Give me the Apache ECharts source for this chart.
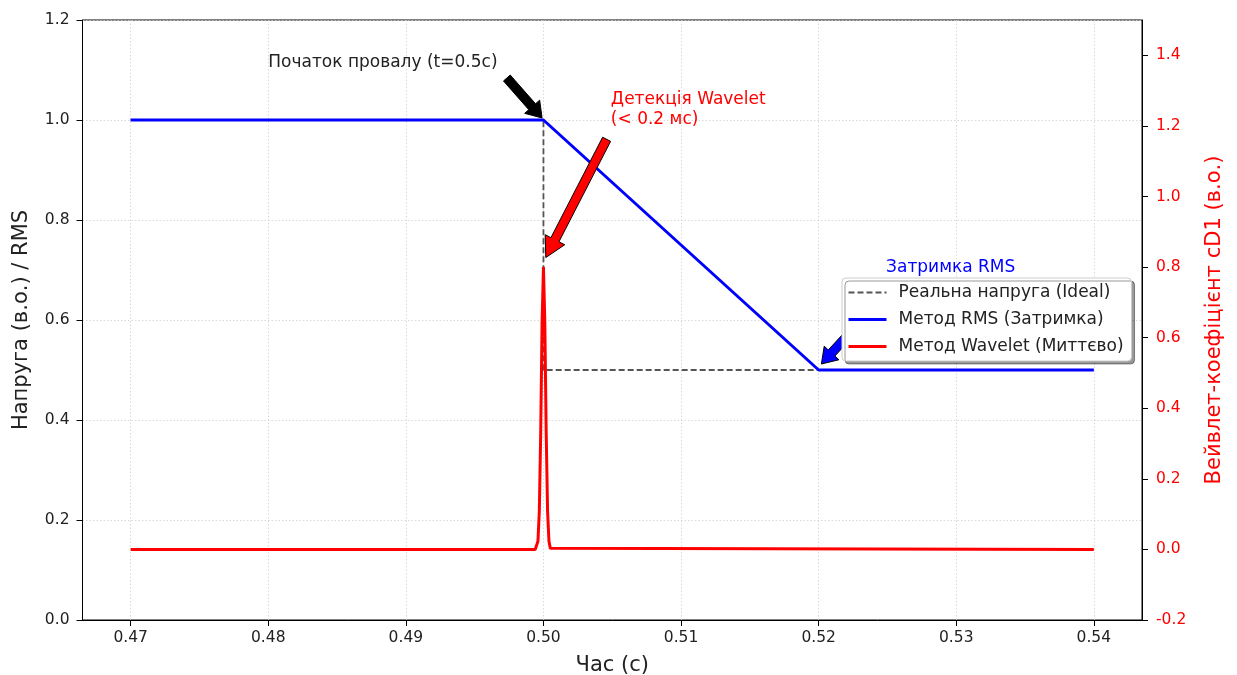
<!DOCTYPE html>
<html>
<head>
<meta charset="utf-8">
<script src="https://cdn.jsdelivr.net/npm/echarts@6/dist/echarts.min.js"></script>
<style>
  html, body { margin: 0; padding: 0; background: #fff; }
  #chart { width: 1237px; height: 675px; }
</style>
</head>
<body>
<div id="chart"></div>
<script>
// Axis ticks
const timeTicks = [0.47, 0.48, 0.49, 0.50, 0.51, 0.52, 0.53, 0.54];
const voltTicks = [0.0, 0.2, 0.4, 0.6, 0.8, 1.0, 1.2];
const coefTicks = [-0.2, 0.0, 0.2, 0.4, 0.6, 0.8, 1.0, 1.2, 1.4];

// Ideal voltage (step sag at t = 0.5 s)
const idealTime = [0.47, 0.50, 0.50, 0.54];
const idealVolt = [1.0, 1.0, 0.5, 0.5];

// RMS estimate (one-cycle window lag)
const rmsTime = [0.47, 0.50, 0.52, 0.54];
const rmsVolt = [1.0, 1.0, 0.5, 0.5];

// Wavelet detail coefficient cD1
const cd1Time = [0.47, 0.4994, 0.4995, 0.4996, 0.4997, 0.4998, 0.4999, 0.5000,
                 0.5001, 0.5002, 0.5003, 0.5004, 0.5005, 0.5006, 0.54];
const cd1Value = [0.0, 0.0, 0.003, 0.023, 0.108, 0.329, 0.641, 0.80,
                  0.641, 0.329, 0.108, 0.023, 0.003, 0.0, 0.0];

const seriesNames = ['Реальна напруга (Ideal)', 'Метод RMS (Затримка)', 'Метод Wavelet (Миттєво)'];

const zip = (a, b) => a.map((v, i) => [v, b[i]]);

const chart = echarts.init(document.getElementById('chart'));
const FONT = 'DejaVu Sans';

chart.setOption({
  animation: false,
  textStyle: { fontFamily: FONT },
  grid: {
    left: 82.5, right: 95, top: 20, bottom: 55,
    show: true, borderColor: '#000', borderWidth: 1, backgroundColor: 'transparent',
    outerBoundsMode: 'none'
  },
  legend: {
    orient: 'vertical',
    left: 842, top: 278,
    z: 10,
    padding: [6, 8, 6, 5],
    itemGap: 10,
    itemWidth: 38,
    itemHeight: 14,
    backgroundColor: '#fff',
    borderColor: '#cccccc',
    borderWidth: 1,
    borderRadius: 4,
    shadowColor: 'rgba(0,0,0,0.4)',
    shadowBlur: 0,
    shadowOffsetX: 3,
    shadowOffsetY: 3,
    itemStyle: { color: 'rgba(0,0,0,0)', borderColor: 'rgba(0,0,0,0)', borderWidth: 0 },
    textStyle: { fontFamily: FONT, fontSize: 17, color: '#222', padding: [0, 0, 0, 7] },
    data: [
      { name: seriesNames[0], lineStyle: { width: 2 } },
      { name: seriesNames[1], lineStyle: { width: 3 } },
      { name: seriesNames[2], lineStyle: { width: 3 } }
    ]
  },
  xAxis: {
    type: 'value',
    min: 0.4665, max: 0.5435,
    name: 'Час (с)',
    nameLocation: 'middle',
    nameGap: 35,
    nameTextStyle: { fontFamily: FONT, fontSize: 21, color: '#222' },
    axisLine: { show: true, onZero: false, lineStyle: { color: '#000', width: 1 } },
    axisTick: { show: true, length: 6, customValues: timeTicks, lineStyle: { color: '#000' } },
    axisLabel: {
      customValues: timeTicks, fontSize: 15.5, color: '#222', margin: 10,
      formatter: v => v.toFixed(2)
    },
    splitLine: { show: true, lineStyle: { color: '#cfcfcf', type: [1.5, 2], width: 0.8 } }
  },
  yAxis: [
    {
      type: 'value', min: 0, max: 1.2, interval: 0.2,
      position: 'left',
      name: 'Напруга (в.о.) / RMS',
      nameLocation: 'middle',
      nameGap: 50,
      nameTextStyle: { fontFamily: FONT, fontSize: 21, color: '#222' },
      axisLine: { show: true, lineStyle: { color: '#000', width: 1 } },
      axisTick: { show: true, length: 6, lineStyle: { color: '#000' } },
      axisLabel: { fontSize: 15.5, color: '#222', margin: 13, formatter: v => v.toFixed(1) },
      splitLine: { show: true, lineStyle: { color: '#cfcfcf', type: [1.5, 2], width: 0.8 } }
    },
    {
      type: 'value', min: -0.2, max: 1.5,
      position: 'right',
      name: 'Вейвлет-коефіцієнт cD1 (в.о.)',
      nameLocation: 'middle',
      nameGap: 62,
      nameRotate: 90,
      nameTextStyle: { fontFamily: FONT, fontSize: 21, color: '#ff0000' },
      axisLine: { show: true, lineStyle: { color: '#000', width: 1 } },
      axisTick: { show: true, length: 6, customValues: coefTicks, lineStyle: { color: '#000' } },
      axisLabel: {
        customValues: coefTicks, fontSize: 15.5, color: '#ff0000', margin: 14,
        formatter: v => v.toFixed(1)
      },
      splitLine: { show: false }
    }
  ],
  series: [
    {
      name: seriesNames[0], type: 'line', yAxisIndex: 0,
      data: zip(idealTime, idealVolt),
      symbol: 'none', z: 2,
      lineStyle: { color: '#555555', width: 1.8, type: [6, 3] },
      itemStyle: { color: '#555555' }
    },
    {
      name: seriesNames[1], type: 'line', yAxisIndex: 0,
      data: zip(rmsTime, rmsVolt),
      symbol: 'none', z: 3,
      lineStyle: { color: '#0000ff', width: 3 },
      itemStyle: { color: '#0000ff' }
    },
    {
      name: seriesNames[2], type: 'line', yAxisIndex: 1,
      data: zip(cd1Time, cd1Value),
      symbol: 'none', z: 4,
      lineStyle: { color: '#ff0000', width: 3 },
      itemStyle: { color: '#ff0000' }
    }
  ]
});

// Annotations placed in data coordinates
const px = (x, y, axis) => chart.convertToPixel({ xAxisIndex: 0, yAxisIndex: axis }, [x, y]);

function arrowPoints(tail, tip, shaftW, headW, headL) {
  const dx = tip[0] - tail[0], dy = tip[1] - tail[1];
  const L = Math.hypot(dx, dy);
  const ux = dx / L, uy = dy / L, nx = -uy, ny = ux;
  const bx = tip[0] - ux * headL, by = tip[1] - uy * headL;
  return [
    [tail[0] + nx * shaftW / 2, tail[1] + ny * shaftW / 2],
    [bx + nx * shaftW / 2, by + ny * shaftW / 2],
    [bx + nx * headW / 2, by + ny * headW / 2],
    [tip[0], tip[1]],
    [bx - nx * headW / 2, by - ny * headW / 2],
    [bx - nx * shaftW / 2, by - ny * shaftW / 2],
    [tail[0] - nx * shaftW / 2, tail[1] - ny * shaftW / 2]
  ];
}

function arrow(tail, tip, fill, shaftW, headW, headL, z) {
  return {
    type: 'polygon', z: z, silent: true,
    shape: { points: arrowPoints(tail, tip, shaftW, headW, headL) },
    style: { fill: fill, stroke: '#000', lineWidth: 1 }
  };
}

function label(text, pos, color, z) {
  return {
    type: 'text', z: z, silent: true,
    x: pos[0], y: pos[1],
    style: {
      text: text, fill: color, font: '17px "DejaVu Sans"',
      textAlign: 'left', textVerticalAlign: 'middle', lineHeight: 20
    }
  };
}

chart.setOption({
  graphic: [
    // sag onset
    arrow(px(0.49734, 1.084, 0), px(0.4999, 1.004, 0), '#000', 9, 20, 15, 20),
    label('Початок провалу (t=0.5c)', px(0.48, 1.114, 0), '#222', 20),
    // wavelet detection
    arrow(px(0.50459, 1.162, 1), px(0.50017, 0.827, 1), '#ff0000', 9, 22, 20, 20),
    label('Детекція Wavelet\n(< 0.2 мс)', px(0.5049, 1.247, 1), '#ff0000', 20),
    // RMS delay (drawn beneath the legend)
    arrow(px(0.5255, 0.67, 0), px(0.5202, 0.512, 0), '#0000ff', 9, 20, 15, 1),
    label('Затримка RMS', px(0.5249, 0.704, 0), '#0000ff', 20)
  ]
});
</script>
</body>
</html>
